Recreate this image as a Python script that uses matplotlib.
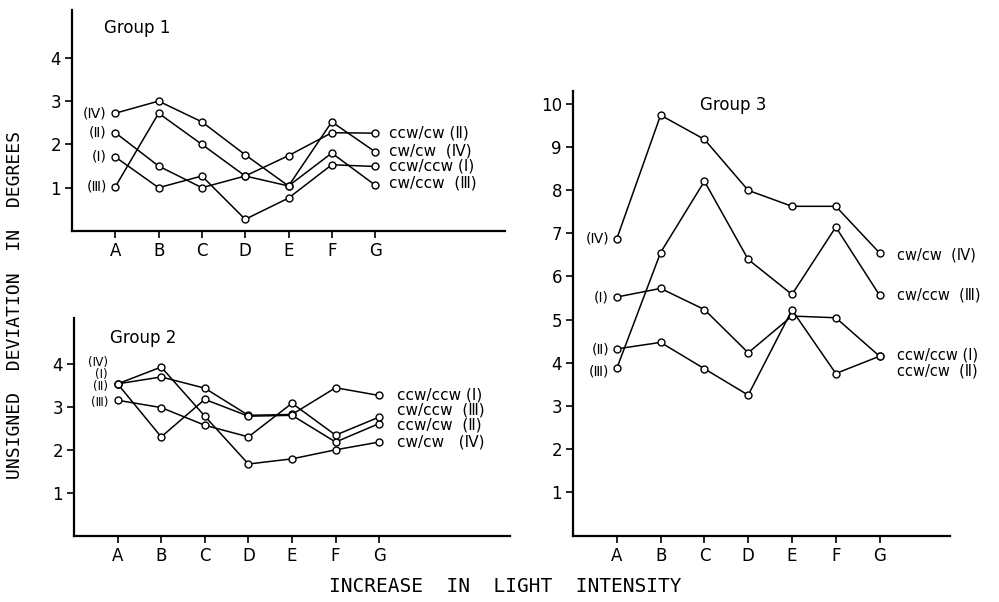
import matplotlib
matplotlib.use('Agg')
import matplotlib.pyplot as plt

stimuli = ['A', 'B', 'C', 'D', 'E', 'F', 'G']
xpos = [1, 2, 3, 4, 5, 6, 7]

# Group 1
g1_I = [1.71, 1.00, 1.27, 0.27, 0.76, 1.53, 1.49]
g1_II = [2.27, 1.50, 1.00, 1.27, 1.74, 2.27, 2.26]
g1_III = [1.02, 2.72, 2.00, 1.27, 1.04, 1.80, 1.06]
g1_IV = [2.72, 3.00, 2.52, 1.76, 1.04, 2.52, 1.83]

# Group 2
g2_I = [3.53, 3.69, 3.43, 2.80, 2.82, 3.44, 3.26]
g2_II = [3.53, 2.30, 3.17, 2.78, 2.80, 2.18, 2.61]
g2_III = [3.15, 2.98, 2.57, 2.30, 3.08, 2.34, 2.76]
g2_IV = [3.53, 3.92, 2.78, 1.67, 1.79, 2.00, 2.18]

# Group 3
g3_I = [5.52, 5.72, 5.23, 4.23, 5.08, 5.04, 4.15]
g3_II = [4.32, 4.47, 3.86, 3.25, 5.22, 3.75, 4.15]
g3_III = [3.87, 6.55, 8.20, 6.39, 5.58, 7.14, 5.56]
g3_IV = [6.87, 9.73, 9.17, 7.99, 7.62, 7.62, 6.54]

# left labels (text, y) and right labels (text, y)
g1_left = [('(Ⅳ)', 2.72), ('(Ⅱ)', 2.27), ('(Ⅰ)', 1.71), ('(Ⅲ)', 1.02)]
g1_right = [('ccw/cw (Ⅱ)', 2.26), ('cw/cw  (Ⅳ)', 1.85),
            ('ccw/ccw (Ⅰ)', 1.51), ('cw/ccw  (Ⅲ)', 1.12)]
g2_left = [('(Ⅳ)', 4.02), ('(Ⅰ)', 3.74), ('(Ⅱ)', 3.46), ('(Ⅲ)', 3.09)]
g2_right = [('ccw/ccw (Ⅰ)', 3.28), ('cw/ccw  (Ⅲ)', 2.93),
            ('ccw/cw  (Ⅱ)', 2.58), ('cw/cw   (Ⅳ)', 2.17)]
g3_left = [('(Ⅳ)', 6.87), ('(Ⅰ)', 5.50), ('(Ⅱ)', 4.30), ('(Ⅲ)', 3.80)]
g3_right = [('cw/cw  (Ⅳ)', 6.49), ('cw/ccw  (Ⅲ)', 5.56),
            ('ccw/ccw (Ⅰ)', 4.17), ('ccw/cw  (Ⅱ)', 3.81)]

W, H = 999, 602
fig = plt.figure(figsize=(W / 100, H / 100), dpi=100)


def panel(rect, series, yticks, ylim, xlim, title, title_xy, left, right,
          left_dx, right_dx, left_fs=10, right_fs=11):
    ax = fig.add_axes(rect)
    for s in series:
        ax.plot(xpos, s, color='black', lw=1.1, marker='o', ms=5,
                mfc='white', mec='black', mew=1.0, clip_on=False, zorder=3)
    ax.set_xlim(*xlim)
    ax.set_ylim(*ylim)
    ax.set_xticks(xpos)
    ax.set_xticklabels(stimuli)
    ax.set_yticks(yticks)
    ax.set_yticklabels([str(t) for t in yticks])
    for sp in ['top', 'right']:
        ax.spines[sp].set_visible(False)
    for sp in ['left', 'bottom']:
        ax.spines[sp].set_linewidth(1.6)
    ax.tick_params(axis='both', direction='out', length=5, width=1.2,
                   labelsize=12, pad=3)
    ax.text(title_xy[0], title_xy[1], title, fontsize=12, ha='left', va='center')
    for txt, y in left:
        ax.text(1 - left_dx, y, txt, fontsize=left_fs, ha='right', va='center')
    for txt, y in right:
        ax.text(7 + right_dx, y, txt, fontsize=right_fs, ha='left', va='center')
    return ax


# Group 1 (upper left)
panel([72 / W, 1 - 231 / H, 433 / W, 5.1 * 43.3 / H],
      [g1_I, g1_II, g1_III, g1_IV], [1, 2, 3, 4], (0, 5.1), (0, 10),
      'Group 1', (0.75, 4.68), g1_left, g1_right, 0.2, 0.33)

# Group 2 (lower left)
panel([74 / W, 1 - 536 / H, 436 / W, 5.05 * 43.1 / H],
      [g2_I, g2_II, g2_III, g2_IV], [1, 2, 3, 4], (0, 5.05), (0, 10),
      'Group 2', (0.83, 4.6), g2_left, g2_right, 0.22, 0.4, left_fs=8.5)

# Group 3 (right)
panel([573 / W, 1 - 535.5 / H, 8.6 * 43.8 / W, 10.3 * 43.2 / H],
      [g3_I, g3_II, g3_III, g3_IV], list(range(1, 11)), (0, 10.3), (0, 8.6),
      'Group 3', (2.9, 9.97), g3_left, g3_right, 0.18, 0.4, right_fs=10.5)

fig.text(15 / W, 1 - 305 / H, 'UNSIGNED  DEVIATION  IN  DEGREES', rotation=90,
         ha='center', va='center', fontsize=13, family='DejaVu Sans Mono')
fig.text(505 / W, 1 - 587 / H, 'INCREASE  IN  LIGHT  INTENSITY',
         ha='center', va='center', fontsize=14, family='DejaVu Sans Mono')

fig.savefig('out.png', dpi=100)
